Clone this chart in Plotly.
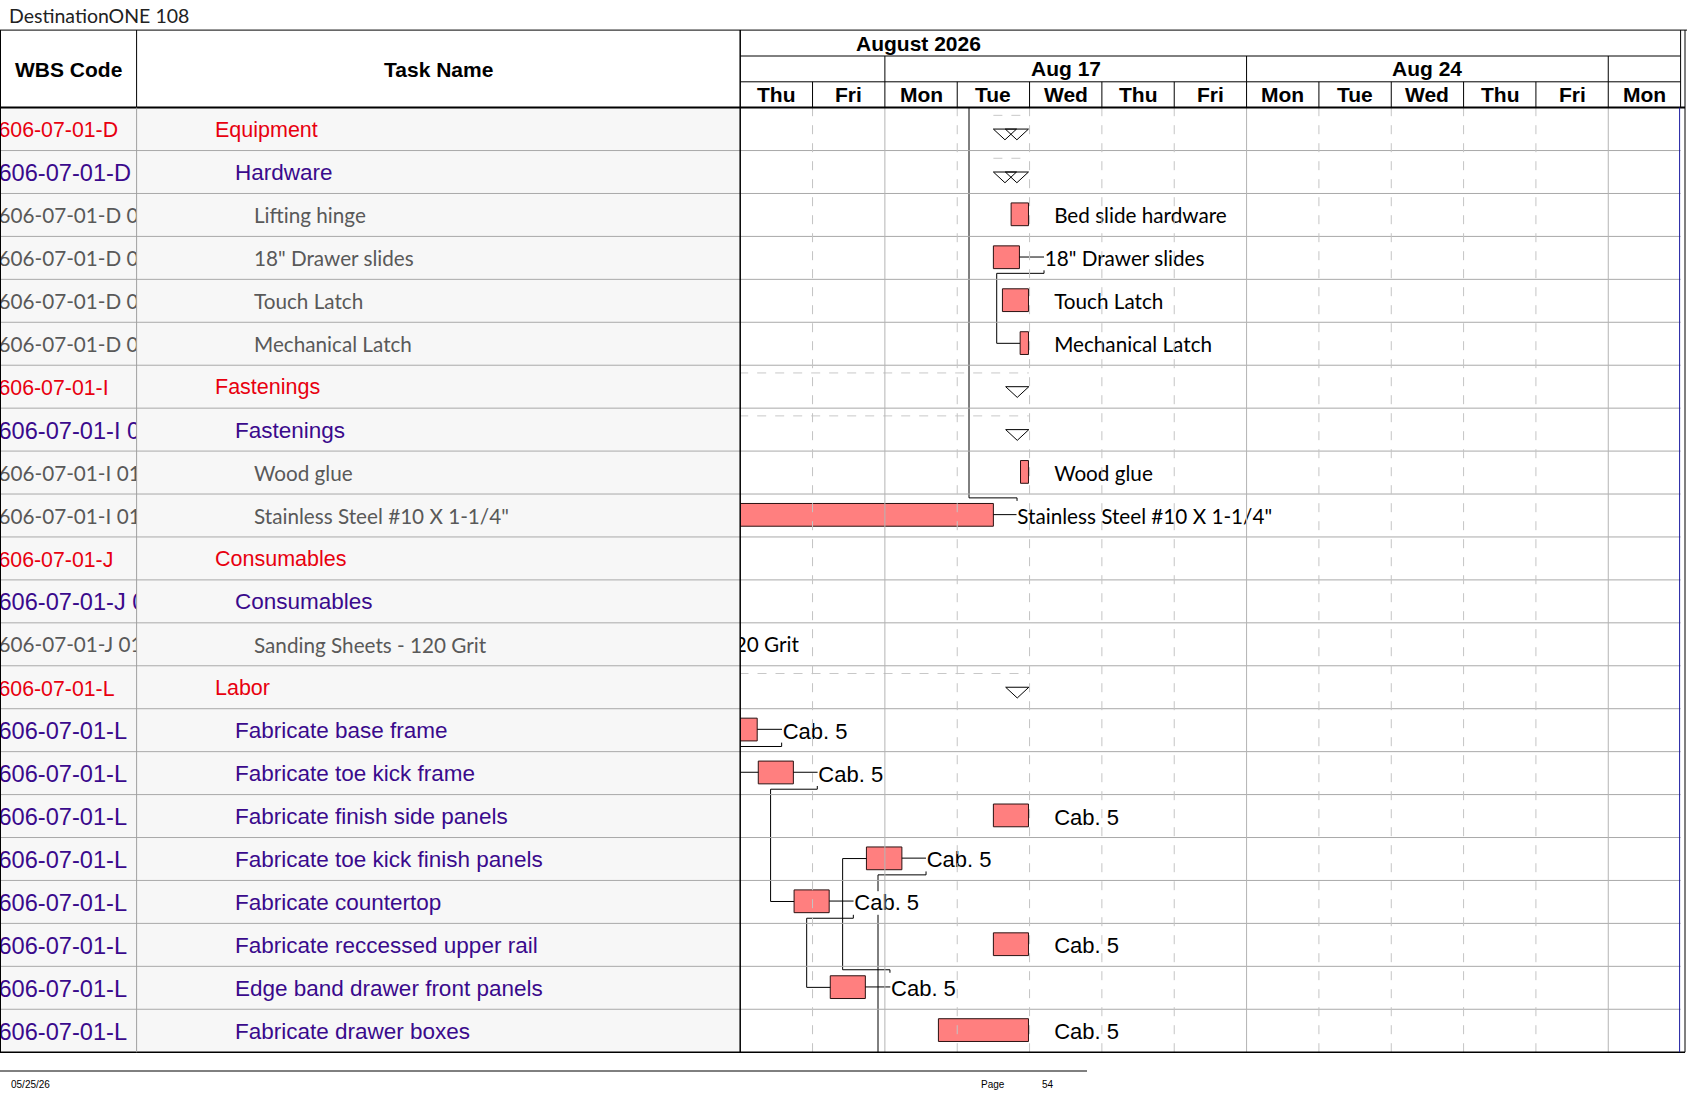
import plotly.graph_objects as go

W, H = 1687, 1097

# -------------------------------------------------
# Data
# -------------------------------------------------
title_text = "DestinationONE 108"
month_label = "August 2026"
day_labels = ["Thu", "Fri", "Mon", "Tue", "Wed", "Thu", "Fri",
              "Mon", "Tue", "Wed", "Thu", "Fri", "Mon"]
week_labels = ["Aug 17", "Aug 24"]
week_start = [2, 7]
week_end = [7, 12]
week_breaks = [2, 7, 12]

wbs_codes = [
    "606-07-01-D", "606-07-01-D", "606-07-01-D 01.01", "606-07-01-D 01.02",
    "606-07-01-D 01.03", "606-07-01-D 01.04", "606-07-01-I", "606-07-01-I 01",
    "606-07-01-I 01.01", "606-07-01-I 01.02", "606-07-01-J", "606-07-01-J 01",
    "606-07-01-J 01.01", "606-07-01-L", "606-07-01-L", "606-07-01-L",
    "606-07-01-L", "606-07-01-L", "606-07-01-L", "606-07-01-L",
    "606-07-01-L", "606-07-01-L",
]
task_names = [
    "Equipment", "Hardware", "Lifting hinge", "18\" Drawer slides",
    "Touch Latch", "Mechanical Latch", "Fastenings", "Fastenings",
    "Wood glue", "Stainless Steel #10 X 1-1/4\"", "Consumables", "Consumables",
    "Sanding Sheets - 120 Grit", "Labor", "Fabricate base frame",
    "Fabricate toe kick frame", "Fabricate finish side panels",
    "Fabricate toe kick finish panels", "Fabricate countertop",
    "Fabricate reccessed upper rail", "Edge band drawer front panels",
    "Fabricate drawer boxes",
]
# 0 = group (red), 1 = sub task (purple), 2 = item (grey)
task_level = [0, 1, 2, 2, 2, 2, 0, 1, 2, 2, 0, 1, 2, 0, 1, 1, 1, 1, 1, 1, 1, 1]

# task bars, in working days from Thu Aug 13
bar_rows = [2, 3, 4, 5, 8, 9, 12, 14, 15, 16, 17, 18, 19, 20, 21]
bar_start = [3.745, 3.5, 3.625, 3.87, 3.875, -2.2, -4.0, -0.25, 0.25, 3.5,
             1.745, 0.745, 3.5, 1.245, 2.74]
bar_finish = [3.985, 3.86, 3.985, 3.985, 3.985, 3.5, -3.6, 0.235, 0.735, 3.985,
              2.235, 1.23, 3.985, 1.73, 3.985]
bar_text = ["Bed slide hardware", "18\" Drawer slides", "Touch Latch",
            "Mechanical Latch", "Wood glue", "Stainless Steel #10 X 1-1/4\"",
            "Sanding Sheets - 120 Grit", "Cab. 5", "Cab. 5", "Cab. 5", "Cab. 5",
            "Cab. 5", "Cab. 5", "Cab. 5", "Cab. 5"]
bar_text_x = [4.34, 4.21, 4.34, 4.34, 4.34, 3.83, 0.81, 0.588, 1.08, 4.34,
              2.578, 1.577, 4.34, 2.085, 4.34]
bar_text_linked = [False, True, False, False, False, True, False, True, True,
                   False, True, True, False, True, False]

# summary rows
summary_rows = [0, 1, 6, 7, 10, 11, 13]
summary_start = [3.5, 3.5, -3.0, -3.0, -4.5, -4.5, -2.0]
summary_finish = [3.985, 3.985, 3.99, 3.99, -1.5, -1.5, 3.99]

# dependency link paths (day, row)
link_paths = [
    [(3.163, 0.0), (3.163, 9.09), (3.827, 9.09), (3.827, 9.16)],
    [(4.2, 3.79), (4.2, 3.86), (3.546, 3.86), (3.546, 5.49), (3.868, 5.49)],
    [(0.0, 14.88), (0.573, 14.88), (0.573, 14.79)],
    [(0.0, 15.48), (0.25, 15.48)],
    [(1.066, 15.8), (1.066, 15.875), (0.42, 15.875), (0.42, 18.49), (0.745, 18.49)],
    [(1.564, 18.8), (1.564, 18.88), (0.919, 18.88), (0.919, 20.49), (1.245, 20.49)],
    [(2.07, 20.15), (2.07, 20.08), (1.416, 20.08), (1.416, 17.49), (1.745, 17.49)],
    [(2.569, 17.79), (2.569, 17.87), (1.905, 17.87), (1.905, 18.25)],
    [(1.905, 18.8), (1.905, 22.0)],
]

footer_date = "05/25/26"
footer_page = "54"

# -------------------------------------------------
# Layout geometry (pixels)
# -------------------------------------------------
n_rows = len(task_names)
n_days = len(day_labels)
TOP = 30.1
HDR1 = 56.0
HDR2 = 81.8
BODY_TOP = 107.6
BODY_BOT = 1052.2
COL1 = 136.6
COL2 = 740.2
RIGHT = 1680.6
TXT_DY = 0.57  # scatter text sits a little high, nudge it down


def px(x):
    return x / W


def py(y):
    return 1 - y / H


RED = "#e8000f"
PURPLE = "#3a0a8c"
GREY = "#595959"
ARIAL = "Liberation Sans, Arial, sans-serif"
CALIBRI = "Lato, Open Sans, sans-serif"
ITEM_SIZE = 20.7

fig = go.Figure()

# -------------------------------------------------
# Gantt bars
# -------------------------------------------------
fig.add_trace(go.Bar(
    y=[r + 0.485 for r in bar_rows],
    x=[f - s for s, f in zip(bar_start, bar_finish)],
    base=bar_start,
    orientation="h",
    width=0.53,
    marker=dict(color="#ff7f7f", line=dict(color="#2b1212", width=1)),
    hoverinfo="skip",
    showlegend=False,
))

# summary dashed lines
sx, sy = [], []
for r, s, f in zip(summary_rows, summary_start, summary_finish):
    sx += [s, f, None]
    sy += [r + 0.18, r + 0.18, None]
fig.add_trace(go.Scatter(
    x=sx, y=sy, mode="lines",
    line=dict(color="#c8c8c8", width=1, dash="dash"),
    hoverinfo="skip", showlegend=False,
))

# summary end triangles
tw = 0.32
tx, ty = [], []
for r, s, f in zip(summary_rows, summary_start, summary_finish):
    for x0 in (s, f - tw):
        tx += [x0, x0 + tw, x0 + tw / 2, x0, None]
        ty += [r + 0.5, r + 0.5, r + 0.75, r + 0.5, None]
fig.add_trace(go.Scatter(
    x=tx, y=ty, mode="lines", fill="toself", fillcolor="white",
    line=dict(color="black", width=1),
    hoverinfo="skip", showlegend=False,
))

# label connectors and link lines
lx, ly = [], []
for r, f, t, linked in zip(bar_rows, bar_finish, bar_text_x, bar_text_linked):
    if linked:
        lx += [f, t - 0.01, None]
        ly += [r + 0.48, r + 0.48, None]
for path in link_paths:
    lx += [p[0] for p in path] + [None]
    ly += [p[1] for p in path] + [None]
fig.add_trace(go.Scatter(
    x=lx, y=ly, mode="lines",
    line=dict(color="black", width=1),
    hoverinfo="skip", showlegend=False,
))

# bar labels
for r, t, x in zip(bar_rows, bar_text, bar_text_x):
    is_cab = t.startswith("Cab")
    fig.add_trace(go.Scatter(
        x=[x], y=[r + TXT_DY], mode="text", text=[t],
        textposition="middle left" if x < 1 and not is_cab else "middle right",
        textfont=dict(family=ARIAL if is_cab else CALIBRI,
                      size=22 if is_cab else ITEM_SIZE, color="black"),
        cliponaxis=True, hoverinfo="skip", showlegend=False,
    ))

# WBS codes (clipped to the column)
for lvl in (0, 1, 2):
    rows = [i for i in range(n_rows) if task_level[i] == lvl]
    fig.add_trace(go.Scatter(
        x=[-1.5] * len(rows), y=[i + TXT_DY for i in rows],
        mode="text", text=[wbs_codes[i] for i in rows],
        textposition="middle right",
        textfont=dict(family=CALIBRI if lvl == 2 else ARIAL,
                      size=[21.3, 23.6, ITEM_SIZE][lvl],
                      color=[RED, PURPLE, GREY][lvl]),
        cliponaxis=True, xaxis="x2", yaxis="y",
        hoverinfo="skip", showlegend=False,
    ))

# -------------------------------------------------
# Table grid shapes
# -------------------------------------------------
shapes = []


def hline(y, x0, x1, color="black", width=1, yref="paper", xref="paper", dash=None):
    shapes.append(dict(type="line", xref=xref, yref=yref, x0=x0, x1=x1, y0=y, y1=y,
                       line=dict(color=color, width=width, dash=dash)))


def vline(x, y0, y1, color="black", width=1, xref="paper", yref="paper", dash=None):
    shapes.append(dict(type="line", xref=xref, yref=yref, x0=x, x1=x, y0=y0, y1=y1,
                       line=dict(color=color, width=width, dash=dash)))


shapes.append(dict(type="rect", xref="paper", yref="paper", layer="below",
                   x0=0, x1=px(COL2), y0=py(BODY_BOT), y1=py(BODY_TOP),
                   fillcolor="#f7f7f7", line=dict(width=0)))

for i in range(1, n_rows):
    hline(i, 0, px(RIGHT), color="#a9a9a9", yref="y")

for d in range(1, n_days):
    if d in week_breaks:
        vline(d, py(BODY_BOT), py(BODY_TOP), color="#b4b4b4", xref="x")
    else:
        vline(d, py(BODY_BOT), py(BODY_TOP), color="#c4c4c4", xref="x", dash="dash")
    vline(d, py(BODY_TOP), py(HDR2), xref="x")
for d in week_breaks:
    vline(d, py(HDR2), py(HDR1), xref="x")

hline(py(HDR1), px(COL2), px(RIGHT))
hline(py(HDR2), px(COL2), px(RIGHT))
hline(py(TOP), 0, 1)
hline(py(BODY_TOP), 0, px(1685), width=2)
hline(py(BODY_BOT), 0, px(1685), width=1.5)
vline(px(0.5), py(BODY_BOT), py(TOP))
vline(px(COL1), py(BODY_TOP), py(TOP))
vline(px(COL1), py(BODY_BOT), py(BODY_TOP), color="#a0a0a0")
vline(px(COL2), py(BODY_BOT), py(TOP), width=1.5)
vline(px(RIGHT), py(BODY_TOP), py(TOP))
vline(px(RIGHT - 1), py(BODY_BOT), py(BODY_TOP), color="#1c1ca0")
vline(px(1685), py(BODY_BOT), py(TOP))

# footer
hline(py(1071), 0, px(1087))

# -------------------------------------------------
# Text annotations
# -------------------------------------------------
ann = []
hdr_font = dict(family=ARIAL, size=21, color="black", weight="bold")

ann.append(dict(x=px(7), y=py(15), text=title_text, xanchor="left", yanchor="middle",
                font=dict(family=CALIBRI, size=19.5, color="#222222")))
ann.append(dict(x=px(COL1 / 2), y=py(69), text="WBS Code", font=hdr_font))
ann.append(dict(x=px((COL1 + COL2) / 2), y=py(69), text="Task Name", font=hdr_font))
ann.append(dict(x=px(918.8), y=py(43), text=month_label, font=hdr_font))
for lab, s, e in zip(week_labels, week_start, week_end):
    ann.append(dict(x=(s + e) / 2, xref="x", y=py(68.9), text=lab, font=hdr_font))
for d, lab in enumerate(day_labels):
    ann.append(dict(x=d + 0.5, xref="x", y=py(94.7), text=lab, font=hdr_font))

indent = [212.8, 233.3, 251.8]
for i, (name, lvl) in enumerate(zip(task_names, task_level)):
    ann.append(dict(
        x=px(indent[lvl]), y=i + 0.51, yref="y", text=name,
        xanchor="left", yanchor="middle",
        font=dict(family=CALIBRI if lvl == 2 else ARIAL,
                  size=[21.5, 22.5, ITEM_SIZE][lvl], color=[RED, PURPLE, GREY][lvl]),
    ))

foot_font = dict(family=ARIAL, size=10, color="black")
ann.append(dict(x=px(9), y=py(1084), text=footer_date, xanchor="left", font=foot_font))
ann.append(dict(x=px(979), y=py(1084), text="Page", xanchor="left", font=foot_font))
ann.append(dict(x=px(1040), y=py(1084), text=footer_page, xanchor="left", font=foot_font))

for a in ann:
    a.setdefault("xref", "paper")
    a.setdefault("yref", "paper")
    a.setdefault("showarrow", False)
    a.setdefault("xanchor", "center")
    a.setdefault("yanchor", "middle")

# -------------------------------------------------
# Figure layout
# -------------------------------------------------
fig.update_layout(
    width=W, height=H,
    margin=dict(l=0, r=0, t=0, b=0),
    paper_bgcolor="white",
    plot_bgcolor="rgba(0,0,0,0)",
    barmode="overlay",
    xaxis=dict(domain=[px(COL2), px(RIGHT)], range=[0, n_days], visible=False,
               fixedrange=True),
    yaxis=dict(domain=[py(BODY_BOT), py(BODY_TOP)], range=[n_rows, 0], visible=False,
               fixedrange=True),
    xaxis2=dict(domain=[0, px(COL1)], range=[0, COL1], visible=False, anchor="y",
                fixedrange=True),
    shapes=shapes,
    annotations=ann,
    showlegend=False,
)

# drop the default page margin so the chart sits at the window origin
fig.write_html("out.html", config={"displayModeBar": False},
               post_script="document.body.style.margin='0';")
